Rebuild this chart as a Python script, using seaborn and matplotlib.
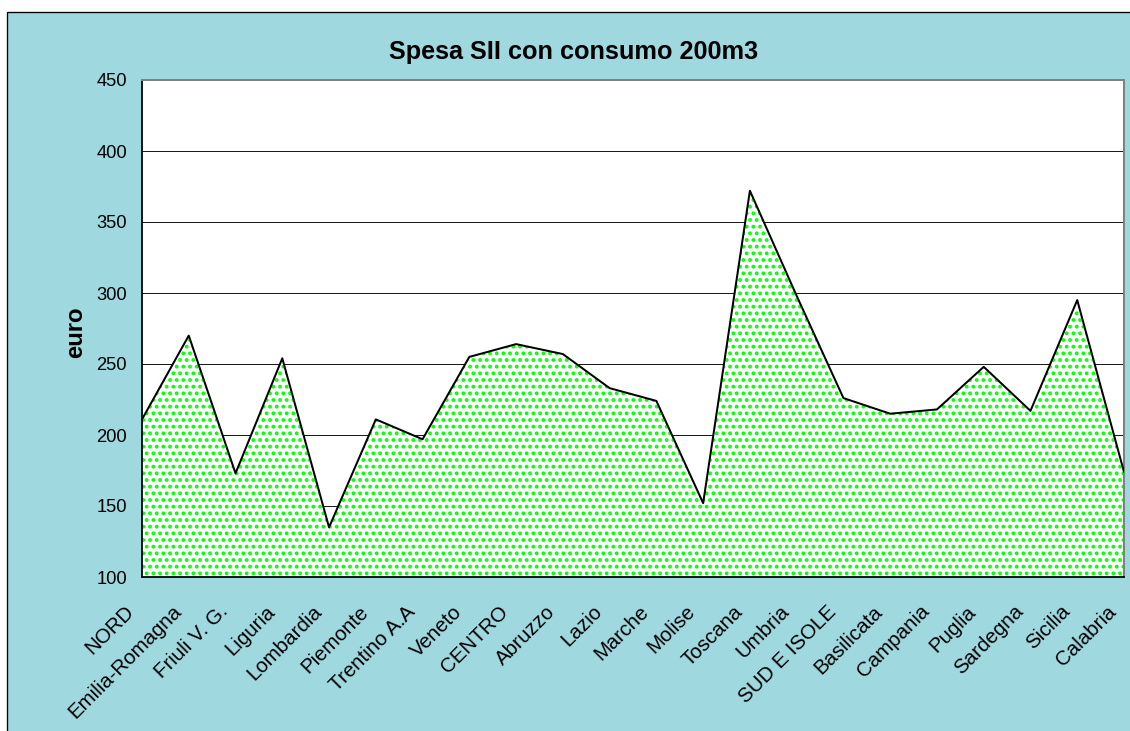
import matplotlib
matplotlib.use('Agg')
import matplotlib.pyplot as plt
import matplotlib.transforms as mtransforms
from matplotlib.patches import Rectangle
import seaborn as sns
import pandas as pd

# ---- data ----
regions = ["NORD", "Emilia-Romagna", "Friuli V. G.", "Liguria", "Lombardia",
           "Piemonte", "Trentino A.A", "Veneto", "CENTRO", "Abruzzo", "Lazio",
           "Marche", "Molise", "Toscana", "Umbria", "SUD E ISOLE", "Basilicata",
           "Campania", "Puglia", "Sardegna", "Sicilia", "Calabria"]
spesa = [211, 270, 173, 254, 135, 211, 197, 255, 264, 257, 233,
         224, 152, 372, 298, 226, 215, 218, 248, 217, 295, 174]
y_ticks = [100, 150, 200, 250, 300, 350, 400, 450]
title = "Spesa SII con consumo 200m3"
y_label = "euro"

DPI = 80
W, H = 1130, 731

sns.set_style('white')
plt.rcParams['font.family'] = ['Liberation Sans', 'DejaVu Sans']
plt.rcParams['text.color'] = 'black'
plt.rcParams['hatch.color'] = '#00FF00'
plt.rcParams['hatch.linewidth'] = 2.2

df = pd.DataFrame({'pos': range(len(regions)), 'regione': regions, 'spesa': spesa})

fig = plt.figure(figsize=(W / DPI, H / DPI), dpi=DPI)
fig.patch.set_facecolor('white')
bg = Rectangle((7 / W, -0.05), 1.2, (H - 12) / H + 0.05, transform=fig.transFigure,
               facecolor='#A0D8E0', edgecolor='black', linewidth=1.2, zorder=-10)
fig.patches.append(bg)

ax = fig.add_axes([142 / W, (H - 577) / H, (1124 - 142) / W, (577 - 80) / H])
ax.set_facecolor('white')

ax.fill_between(df['pos'], df['spesa'], 0, facecolor='white', edgecolor='#00FF00',
                hatch='..', linewidth=0, zorder=2)
sns.lineplot(data=df, x='pos', y='spesa', color='black', linewidth=1.8, ax=ax, zorder=3)

ax.set_xlim(0, len(regions) - 1)
ax.set_ylim(y_ticks[0], y_ticks[-1])
ax.set_yticks(y_ticks)
ax.set_xticks(df['pos'])
ax.set_xticklabels(df['regione'], rotation=45, ha='right', va='center', rotation_mode='anchor')
ax.set_xlabel('')
ax.set_ylabel('')

ax.yaxis.grid(True, color='black', linewidth=0.8)
ax.xaxis.grid(False)
ax.set_axisbelow(True)

ax.tick_params(axis='both', direction='out', length=4.5, width=1.0, color='#333333',
               labelcolor='black')
ax.tick_params(axis='y', pad=9, labelsize=16.5)
ax.tick_params(axis='x', pad=24, labelsize=18.5)

shift = mtransforms.ScaledTranslation(-9.5 / 72, 0, fig.dpi_scale_trans)
for lab in ax.get_xticklabels():
    lab.set_transform(lab.get_transform() + shift)

for side in ['left', 'bottom']:
    ax.spines[side].set_color('black')
    ax.spines[side].set_linewidth(1.6)
for side in ['top', 'right']:
    ax.spines[side].set_color('#808080')
    ax.spines[side].set_linewidth(1.8)

fig.text(574 / W, 1 - 52 / H, title, ha='center', va='center', fontsize=22.7,
         fontweight='bold', color='black')
fig.text(76 / W, 1 - 332 / H, y_label, ha='center', va='center', rotation=90,
         fontsize=21.5, fontweight='bold', color='black')

fig.savefig('out.png', dpi=DPI)
